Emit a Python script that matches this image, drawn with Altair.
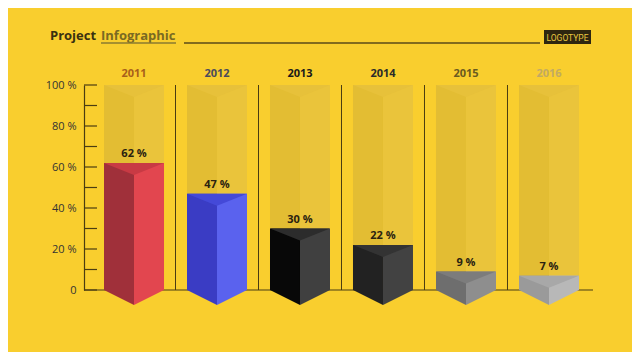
import altair as alt
import pandas as pd

years = ["2011", "2012", "2013", "2014", "2015", "2016"]
values = [62, 47, 30, 22, 9, 7]
year_label_colors = ["#A8601A", "#4A4A5C", "#1A1A1A", "#2A2A2A", "#6A5A20", "#C2AA62"]
left_colors = ["#A0303A", "#3A3CC4", "#080808", "#222222", "#6E6E6E", "#9A9A9A"]
right_colors = ["#E2464F", "#5A62EE", "#404040", "#424242", "#8E8E8E", "#B8B8B8"]
top_colors = ["#C83A44", "#4449D8", "#2C2C2C", "#333333", "#7C7C7C", "#A8A8A8"]
y_ticks = [0, 20, 40, 60, 80, 100]
minor_ticks = [0, 10, 20, 30, 40, 50, 60, 70, 80, 90, 100]

df = pd.DataFrame({"year": years, "value": values, "full": [100] * len(years),
                   "label": [f"{v} %" for v in values]})
sep_df = pd.DataFrame({"year": years[:-1], "full": [100] * (len(years) - 1)})
one = pd.DataFrame({"k": [0]})

BG = "#F9CE2E"
W, H = 509, 205

xscale = alt.Scale(domain=years, paddingInner=0.277, paddingOuter=0.205, align=0.588)
xenc = alt.X("year:N", scale=xscale, axis=None)
yscale = alt.Scale(domain=[0, 100], nice=False)

def cscale(rng):
    return alt.Color("year:N", scale=alt.Scale(domain=years, range=rng), legend=None)

base = alt.Chart(df)

# y axis (left)
yaxis_layer = alt.Chart(pd.DataFrame({"t": y_ticks})).mark_rule(opacity=0).encode(
    y=alt.Y("t:Q", scale=yscale,
            axis=alt.Axis(values=y_ticks,
                          labelExpr="datum.value == 0 ? '0' : datum.value + ' %'",
                          orient="left", domain=True, domainColor="#4A3C12",
                          domainWidth=1.2, ticks=False, grid=False,
                          labelColor="#333333", labelFontSize=11, labelFont="Open Sans",
                          labelPadding=8, title=None)))

# background panels
panel_l = base.mark_bar(width=30, xOffset=-15, color="#E3BD33").encode(
    x=xenc, y=alt.Y("full:Q", scale=yscale))
panel_r = base.mark_bar(width=30, xOffset=15, color="#EAC43B").encode(
    x=xenc, y=alt.Y("full:Q", scale=yscale))
panel_top = base.mark_point(shape="M -1 0 L 1 0 L 0 0.4 Z", size=3600, filled=True,
                            opacity=1, color="#E7C13A", strokeWidth=0).encode(
    x=xenc, y=alt.Y("full:Q", scale=yscale))

# separators
seps = alt.Chart(sep_df).mark_rule(xOffset=41.5, color="#4A3C12", strokeWidth=1).encode(
    x=alt.X("year:N", scale=xscale, axis=None),
    y=alt.Y("full:Q", scale=yscale), y2=alt.datum(0))

# baseline
baseline = alt.Chart(one).mark_rule(color="#4A3C12", strokeWidth=1.2).encode(
    x=alt.value(0), x2=alt.value(W), y=alt.value(H))

minor = alt.Chart(pd.DataFrame({"m": minor_ticks})).mark_rule(
    color="#4A3C12", strokeWidth=1.2).encode(
    x=alt.value(0), x2=alt.value(13), y=alt.Y("m:Q", scale=yscale))

# bars
bar_l = base.mark_bar(width=30, xOffset=-15).encode(
    x=xenc, y=alt.Y("value:Q", scale=yscale), color=cscale(left_colors))
bar_r = base.mark_bar(width=30, xOffset=15).encode(
    x=xenc, y=alt.Y("value:Q", scale=yscale), color=cscale(right_colors))
bar_top = base.mark_point(shape="M -1 0 L 1 0 L 0 0.4 Z", size=3600, filled=True,
                          opacity=1, strokeWidth=0).encode(
    x=xenc, y=alt.Y("value:Q", scale=yscale), color=cscale(top_colors))
bot_l = base.mark_point(shape="M -1 0 L 0 0 L 0 0.5 Z", size=3600, filled=True,
                        opacity=1, strokeWidth=0).encode(
    x=xenc, y=alt.value(H), color=cscale(left_colors))
bot_r = base.mark_point(shape="M 0 0 L 1 0 L 0 0.5 Z", size=3600, filled=True,
                        opacity=1, strokeWidth=0).encode(
    x=xenc, y=alt.value(H), color=cscale(right_colors))

vlabels = base.mark_text(dy=-9, fontSize=11, fontWeight="bold", color="#2A2210",
                         font="Open Sans").encode(
    x=xenc, y=alt.Y("value:Q", scale=yscale), text="label:N")

ylabels = base.mark_text(fontSize=11, fontWeight="bold", font="Open Sans").encode(
    x=xenc, y=alt.value(-11), text="year:N", color=cscale(year_label_colors))

# header
h1 = alt.Chart(one).mark_text(align="left", baseline="middle", fontSize=13,
                              fontWeight="bold", color="#3A3010", font="Open Sans",
                              text="Project").encode(x=alt.value(-34), y=alt.value(-49))
h2 = alt.Chart(one).mark_text(align="left", baseline="middle", fontSize=13,
                              fontWeight="bold", color="#7A6A22", font="Open Sans",
                              text="Infographic").encode(x=alt.value(17), y=alt.value(-49))
uline = alt.Chart(one).mark_rule(color="#8A7A30", strokeWidth=1.5).encode(
    x=alt.value(17), x2=alt.value(92), y=alt.value(-42))
hline = alt.Chart(one).mark_rule(color="#5A4A18", strokeWidth=1.5).encode(
    x=alt.value(100), x2=alt.value(456), y=alt.value(-42))
logo_box = alt.Chart(one).mark_rect(color="#2E2610").encode(
    x=alt.value(460), x2=alt.value(507), y=alt.value(-55), y2=alt.value(-41))
logo_txt = alt.Chart(one).mark_text(fontSize=8.5, color="#E8C840", font="Roboto",
                                    text="LOGOTYPE", baseline="middle").encode(
    x=alt.value(483.5), y=alt.value(-47.5))

chart = alt.layer(
    yaxis_layer, panel_l, panel_r, panel_top, seps, baseline, minor,
    bar_l, bar_r, bar_top, bot_l, bot_r, vlabels, ylabels,
    h1, h2, uline, hline, logo_box, logo_txt
).resolve_scale(color="independent").properties(
    width=W, height=H,
    padding={"left": 76, "top": 77, "right": 39, "bottom": 62},
    autosize="none", background=BG
).configure_view(strokeWidth=0)

chart.save("out.html", embed_options={"renderer": "svg", "actions": False})
